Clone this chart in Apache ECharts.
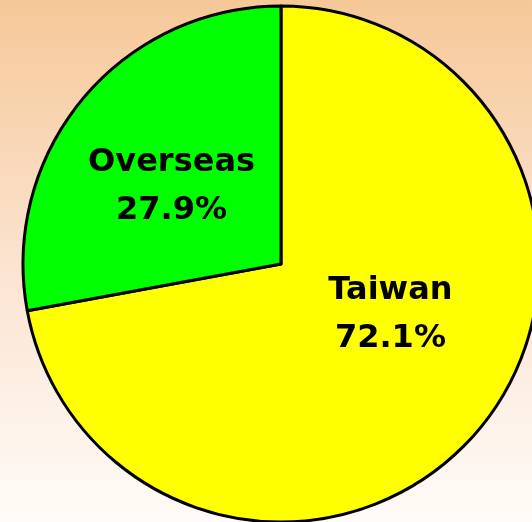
<!DOCTYPE html>
<html>
<head>
<meta charset="utf-8">
<script src="https://cdn.jsdelivr.net/npm/echarts@6/dist/echarts.min.js"></script>
<style>
  html, body { margin: 0; padding: 0; }
  #chart { width: 532px; height: 522px; }
</style>
</head>
<body>
<div id="chart"></div>
<script>
// data
var names = ["Taiwan", "Overseas"];
var values = [72.1, 27.9];
var colors = ["#ffff00", "#00ff00"];

// label nudges (the labels sit off the default inside spot)
var labelShift = [[8, -34], [-8, 7]];

var myChart = echarts.init(document.getElementById("chart"));

var option = {
  backgroundColor: {
    type: "linear", x: 0, y: 0, x2: 0, y2: 1,
    colorStops: [
      { offset: 0, color: "#f6c898" },
      { offset: 0.5, color: "#fbe3cf" },
      { offset: 1, color: "#fffbf8" }
    ]
  },
  animation: false,
  series: [
    {
      type: "pie",
      center: [281, 264],
      radius: 258,
      startAngle: 90,
      clockwise: true,
      itemStyle: { borderColor: "#000", borderWidth: 3 },
      emphasis: { disabled: true },
      label: {
        position: "inside",
        formatter: function(p) { return p.name + "\n" + p.value.toFixed(1) + "%"; },
        fontFamily: "DejaVu Sans",
        fontWeight: "bold",
        fontSize: 32,
        lineHeight: 48,
        color: "#000"
      },
      labelLayout: function(params) {
        var s = labelShift[params.dataIndex];
        return { dx: s[0], dy: s[1] };
      },
      data: names.map(function(n, i) {
        return { name: n, value: values[i], itemStyle: { color: colors[i] } };
      })
    }
  ]
};

myChart.setOption(option);
</script>
</body>
</html>
